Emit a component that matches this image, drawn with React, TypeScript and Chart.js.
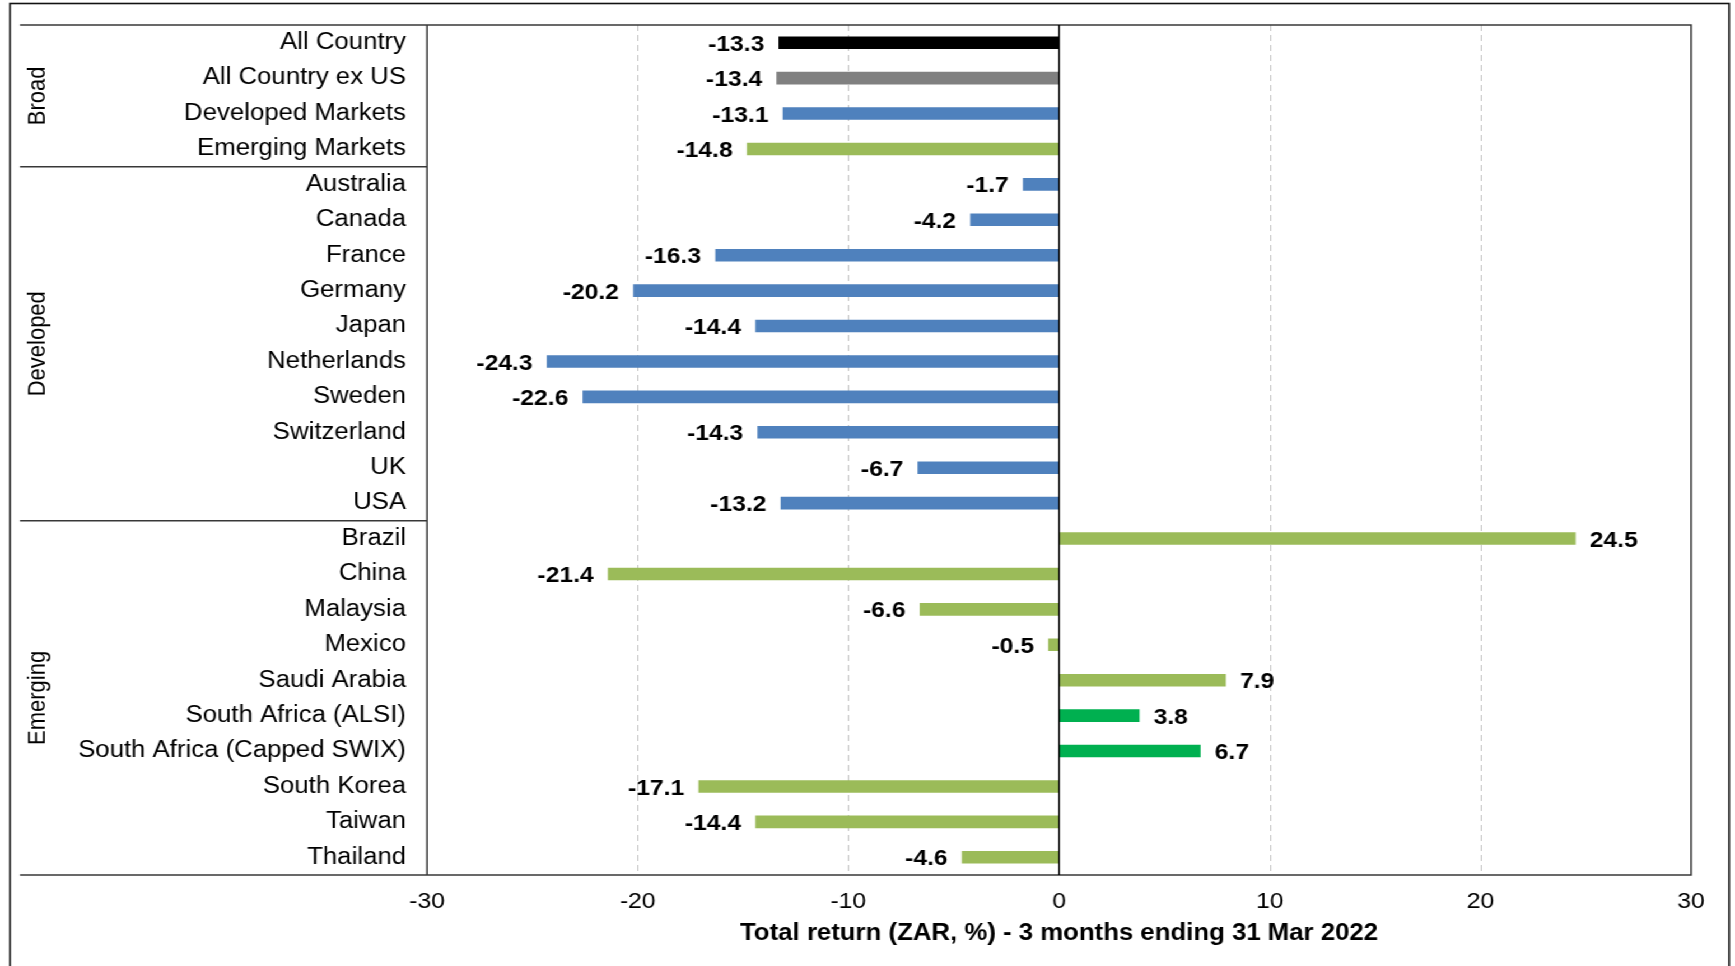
import React, { useEffect, useRef } from 'react';
import { Chart, registerables } from 'chart.js';

Chart.register(...registerables);

// ---- data ----
const categories = [
  'All Country', 'All Country ex US', 'Developed Markets', 'Emerging Markets',
  'Australia', 'Canada', 'France', 'Germany', 'Japan', 'Netherlands', 'Sweden', 'Switzerland', 'UK', 'USA',
  'Brazil', 'China', 'Malaysia', 'Mexico', 'Saudi Arabia', 'South Africa (ALSI)', 'South Africa (Capped SWIX)',
  'South Korea', 'Taiwan', 'Thailand',
];
const returns = [
  -13.3, -13.4, -13.1, -14.8,
  -1.7, -4.2, -16.3, -20.2, -14.4, -24.3, -22.6, -14.3, -6.7, -13.2,
  24.5, -21.4, -6.6, -0.5, 7.9, 3.8, 6.7, -17.1, -14.4, -4.6,
];
const BLACK = '#000000';
const GREY = '#808080';
const BLUE = '#4F81BD';
const GREEN = '#9BBB59';
const SA_GREEN = '#00B050';
const barColors = [
  BLACK, GREY, BLUE, GREEN,
  BLUE, BLUE, BLUE, BLUE, BLUE, BLUE, BLUE, BLUE, BLUE, BLUE,
  GREEN, GREEN, GREEN, GREEN, GREEN, SA_GREEN, SA_GREEN, GREEN, GREEN, GREEN,
];
const groupNames = ['Broad', 'Developed', 'Emerging'];
const groupSizes = [4, 10, 10];
const xTicks = [-30, -20, -10, 0, 10, 20, 30];
const axisTitle = 'Total return (ZAR, %) - 3 months ending 31 Mar 2022';

// ---- layout ----
// The chart is drawn on a narrower canvas and widened with a CSS scaleX,
// which gives the broad letterforms of the original report.
const PAGE_W = 1735;
const PAGE_H = 966;
const STRETCH = 1.12;
const W = Math.round(PAGE_W / STRETCH);
const H = PAGE_H;
const sx = (px: number) => px / STRETCH;
const PLOT_LEFT = sx(427);
const PLOT_RIGHT = sx(1691);
const PLOT_TOP = 25;
const PLOT_BOTTOM = 875;
const FRAME_LEFT = sx(10);
const FRAME_RIGHT = sx(1729);
const TABLE_LEFT = sx(20);
const LINE_COLOR = '#383838';
const FONT = '"Liberation Sans", Arial, sans-serif';

const framePlugin = {
  id: 'frame',
  beforeDraw(chart: any) {
    const { ctx } = chart;
    ctx.save();
    ctx.fillStyle = '#ffffff';
    ctx.fillRect(0, 0, chart.width, chart.height);
    ctx.strokeStyle = '#111111';
    ctx.lineWidth = 1.6;
    ctx.strokeRect(FRAME_LEFT, 3.5, FRAME_RIGHT - FRAME_LEFT, H + 20);
    ctx.restore();
  },
  beforeDatasetsDraw(chart: any) {
    const { ctx, chartArea: a, scales } = chart;
    const x = scales.x;
    const y = scales.y;
    ctx.save();
    // dashed vertical gridlines
    ctx.strokeStyle = '#c4c4c4';
    ctx.lineWidth = 1;
    ctx.setLineDash([6, 4]);
    xTicks.forEach((v) => {
      if (v === 0 || v === xTicks[0] || v === xTicks[xTicks.length - 1]) return;
      const px = Math.round(x.getPixelForValue(v)) + 0.5;
      ctx.beginPath();
      ctx.moveTo(px, a.top);
      ctx.lineTo(px, a.bottom);
      ctx.stroke();
    });
    ctx.setLineDash([]);

    // plot box and table rules
    ctx.strokeStyle = LINE_COLOR;
    ctx.lineWidth = 1.5;
    ctx.beginPath();
    ctx.moveTo(TABLE_LEFT, a.top);
    ctx.lineTo(a.right, a.top);
    ctx.lineTo(a.right, a.bottom);
    ctx.lineTo(TABLE_LEFT, a.bottom);
    ctx.moveTo(a.left, a.top);
    ctx.lineTo(a.left, a.bottom);
    // separators between groups
    let idx = 0;
    groupSizes.slice(0, -1).forEach((n) => {
      idx += n;
      const py = (y.getPixelForValue(idx - 1) + y.getPixelForValue(idx)) / 2;
      ctx.moveTo(TABLE_LEFT, py);
      ctx.lineTo(a.left, py);
    });
    ctx.stroke();

    // rotated group names
    ctx.fillStyle = '#000000';
    ctx.font = `22px ${FONT}`;
    ctx.textAlign = 'center';
    ctx.textBaseline = 'middle';
    let start = 0;
    groupNames.forEach((name, g) => {
      const end = start + groupSizes[g] - 1;
      const cy = (y.getPixelForValue(start) + y.getPixelForValue(end)) / 2;
      ctx.save();
      ctx.translate(sx(38), cy);
      ctx.rotate(-Math.PI / 2);
      ctx.fillText(name, 0, 0);
      ctx.restore();
      start = end + 1;
    });
    ctx.restore();
  },
  afterDatasetsDraw(chart: any) {
    const { ctx, chartArea: a, scales } = chart;
    const x = scales.x;
    ctx.save();
    // zero line
    const zx = x.getPixelForValue(0);
    ctx.strokeStyle = '#000000';
    ctx.lineWidth = 1.4;
    ctx.beginPath();
    ctx.moveTo(zx, a.top);
    ctx.lineTo(zx, a.bottom);
    ctx.stroke();

    // value labels
    const meta = chart.getDatasetMeta(0);
    ctx.fillStyle = '#000000';
    ctx.font = `bold 22px ${FONT}`;
    ctx.textBaseline = 'middle';
    meta.data.forEach((el: any, i: number) => {
      const v = returns[i];
      const label = v.toFixed(1);
      if (v < 0) {
        ctx.textAlign = 'right';
        ctx.fillText(label, el.x - 13, el.y + 2);
      } else {
        ctx.textAlign = 'left';
        ctx.fillText(label, el.x + 13, el.y + 2);
      }
    });
    ctx.restore();
  },
};

function ReturnsChart() {
  const ref = useRef<HTMLCanvasElement | null>(null);

  useEffect(() => {
    if (!ref.current) return;
    const chart = new Chart(ref.current, {
      type: 'bar',
      data: {
        labels: categories,
        datasets: [
          {
            data: returns,
            backgroundColor: barColors,
            borderWidth: 0,
            barThickness: 12,
          },
        ],
      },
      options: {
        indexAxis: 'y',
        responsive: false,
        animation: false,
        devicePixelRatio: 1,
        layout: { padding: { top: PLOT_TOP, right: W - PLOT_RIGHT, left: 0, bottom: 0 } },
        plugins: {
          legend: { display: false },
          tooltip: { enabled: false },
          title: { display: false },
        },
        scales: {
          x: {
            type: 'linear',
            min: xTicks[0],
            max: xTicks[xTicks.length - 1],
            afterBuildTicks: (s: any) => {
              s.ticks = xTicks.map((v) => ({ value: v }));
            },
            afterFit: (s: any) => {
              s.height = H - PLOT_BOTTOM;
              s.paddingLeft = 0;
              s.paddingRight = 0;
            },
            grid: { display: false, drawTicks: false },
            border: { display: false },
            ticks: {
              color: '#000000',
              font: { family: FONT, size: 22 },
              padding: 14,
              maxRotation: 0,
              autoSkip: false,
            },
            title: {
              display: true,
              text: axisTitle,
              color: '#000000',
              font: { family: FONT, size: 23, weight: 'bold' },
              padding: { top: 0, bottom: 19 },
            },
          },
          y: {
            type: 'category',
            afterFit: (s: any) => {
              s.width = PLOT_LEFT;
              s.paddingTop = 0;
              s.paddingBottom = 0;
            },
            grid: { display: false, drawTicks: false },
            border: { display: false },
            ticks: {
              color: '#000000',
              font: { family: FONT, size: 23 },
              padding: PLOT_LEFT - sx(406),
              autoSkip: false,
            },
          },
        },
      },
      plugins: [framePlugin],
    } as any);
    return () => chart.destroy();
  }, []);

  return <canvas ref={ref} width={W} height={H} style={{ display: 'block' }} />;
}

export default function App() {
  return (
    <div
      style={{
        position: 'fixed',
        left: 0,
        top: 0,
        width: W,
        height: H,
        background: '#ffffff',
        transform: `scaleX(${PAGE_W / W})`,
        transformOrigin: '0 0',
      }}
    >
      <ReturnsChart />
    </div>
  );
}
